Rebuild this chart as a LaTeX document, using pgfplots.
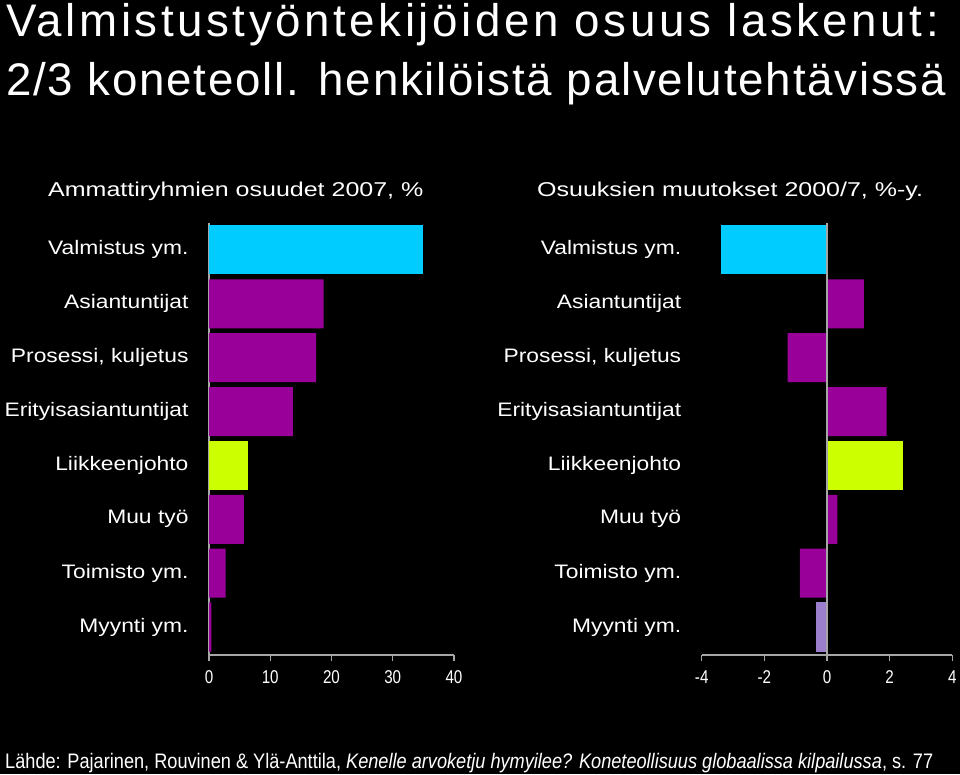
\documentclass[border=0pt]{standalone}
\usepackage{fontspec}
\setmainfont{Liberation Sans}
\newfontfamily\narrow[FakeStretch=0.82]{Liberation Sans}
\newfontfamily\footfont[FakeStretch=0.865]{Liberation Sans}
\newfontfamily\titleA[LetterSpace=7.8]{Liberation Sans}
\newfontfamily\titleB[LetterSpace=3.9]{Liberation Sans}
\newfontfamily\wide[FakeStretch=1.17]{Liberation Sans}
\newfontfamily\subfont[FakeStretch=1.25]{Liberation Sans}
\usepackage{pgfplots}
\pgfplotsset{compat=1.18}
\definecolor{cyanbar}{HTML}{00CCFF}
\definecolor{purplebar}{HTML}{990099}
\definecolor{limebar}{HTML}{CCFF00}
\definecolor{lavbar}{HTML}{9B7FCC}
\definecolor{axgray}{HTML}{A6A6A6}
\pgfplotsset{
  mybars/.style={
    scale only axis, height=432pt,
    xbar, bar width=0.91, bar shift=0pt,
    ymin=-0.52, ymax=7.5,
    ytick={0,1,2,3,4,5,6,7},
    yticklabels={Myynti ym.,Toimisto ym.,Muu työ,Liikkeenjohto,Erityisasiantuntijat,{Prosessi, kuljetus},Asiantuntijat,Valmistus ym.},
    axis x line*=bottom, axis y line*=left,
    axis line style={-, draw=axgray, line width=1.3pt},
    x tick style={draw=axgray, line width=1.2pt},
    xtick align=outside, major tick length=6pt,
    y tick style={draw=none},
    yticklabel style={text=white, font=\wide\fontsize{19.5}{22}\selectfont, anchor=east, xshift=-11pt},
    xticklabel style={text=white, font=\narrow\fontsize{18.5}{21}\selectfont, yshift=-6pt},
    clip=false,
  }
}
\begin{document}
\begin{tikzpicture}[x=1pt,y=1pt]
\fill[black] (0,0) rectangle (960,774);
\useasboundingbox (0,0) rectangle (960,774);
\node[anchor=base west, text=white, font=\titleA\fontsize{45.7}{50}\selectfont, inner sep=0] at (6,737) {Valmistustyöntekijöiden osuus laskenut:};
\node[anchor=base west, text=white, font=\titleB\fontsize{45.7}{50}\selectfont, inner sep=0] at (6,678) {2/3 koneteoll. henkilöistä palvelutehtävissä};
\node[anchor=base west, text=white, font=\subfont\fontsize{20}{24}\selectfont, inner sep=0] at (48,577) {Ammattiryhmien osuudet 2007, \%};
\node[anchor=base west, text=white, font=\subfont\fontsize{20}{24}\selectfont, inner sep=0] at (537,577) {Osuuksien muutokset 2000/7, \%-y.};
\node[anchor=base west, text=white, font=\footfont\fontsize{21}{24}\selectfont, inner sep=0] at (5,6) {Lähde: Pajarinen, Rouvinen \& Ylä-Anttila, \textit{Kenelle arvoketju hymyilee? Koneteollisuus globaalissa kilpailussa}, s. 77};

\begin{axis}[mybars, at={(209pt,119pt)}, anchor=south west, width=245pt,
  xmin=0, xmax=40, xtick={0,10,20,30,40}, xticklabels={0,10,20,30,40}]
\addplot[fill=cyanbar, draw=none] coordinates {(34.9,7)};
\addplot[fill=purplebar, draw=none] coordinates {(18.7,6) (17.5,5) (13.7,4) (5.7,2) (2.7,1) (0.4,0)};
\addplot[fill=limebar, draw=none] coordinates {(6.3,3)};
\end{axis}

\begin{axis}[mybars, at={(701.7pt,119pt)}, anchor=south west, width=250.6pt,
  xmin=-4, xmax=4, xtick={-4,-2,0,2,4}, xticklabels={-4,-2,0,2,4},
  y axis line style={draw=none}]
\addplot[fill=cyanbar, draw=none] coordinates {(-3.4,7)};
\addplot[fill=purplebar, draw=none] coordinates {(1.18,6) (-1.26,5) (1.9,4) (0.33,2) (-0.87,1)};
\addplot[fill=limebar, draw=none] coordinates {(2.41,3)};
\addplot[fill=lavbar, draw=none] coordinates {(-0.36,0)};
\addplot[draw=axgray, line width=1.3pt, no marks, sharp plot] coordinates {(0,-0.52) (0,7.5)};
\end{axis}
\end{tikzpicture}
\end{document}
